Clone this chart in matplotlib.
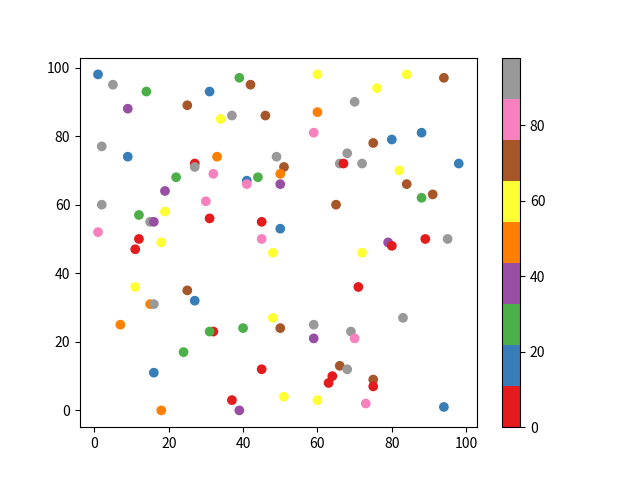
import numpy as np
import matplotlib
matplotlib.use("Agg")
import matplotlib.pyplot as plt

plt.rcParams['font.family'] = ['Noto Sans CJK SC', 'DejaVu Sans']

# colour value per point (Set1 bins over 0..98)
RED, BLUE, GREEN, PURPLE, ORANGE, YELLOW, BROWN, PINK, GREY = 5, 16, 27, 38, 49, 60, 70, 81, 92

x = [1, 5, 14, 9, 25, 31, 39, 42, 34, 37, 46, 60, 84, 94, 76, 70, 60, 59, 88, 80,
     75, 2, 9, 27, 27, 33, 49, 51, 50, 50, 32, 22, 41, 41, 44, 68, 66, 67, 72, 98,
     82, 84, 91, 88, 65, 19, 2, 12, 19, 30, 15, 16, 31, 45, 1, 12, 11, 18, 45, 48,
     50, 72, 79, 80, 89, 95, 71, 11, 15, 16, 25, 27, 7, 32, 31, 40, 24, 48, 50, 59,
     59, 69, 70, 83, 16, 45, 37, 39, 18, 51, 60, 66, 68, 64, 63, 75, 75, 73, 94]
y = [98, 95, 93, 88, 89, 93, 97, 95, 85, 86, 86, 98, 98, 97, 94, 90, 87, 81, 81, 79,
     78, 77, 74, 72, 71, 74, 74, 71, 69, 66, 69, 68, 67, 66, 68, 75, 72, 72, 72, 72,
     70, 66, 63, 62, 60, 64, 60, 57, 58, 61, 55, 55, 56, 55, 52, 50, 47, 49, 50, 46,
     53, 46, 49, 48, 50, 50, 36, 36, 31, 31, 35, 32, 25, 23, 23, 24, 17, 27, 24, 25,
     21, 23, 21, 27, 11, 12, 3, 0, 0, 4, 3, 13, 12, 10, 8, 9, 7, 2, 1]
colors = [BLUE, GREY, GREEN, PURPLE, BROWN, BLUE, GREEN, BROWN, YELLOW, GREY,
          BROWN, YELLOW, YELLOW, BROWN, YELLOW, GREY, ORANGE, PINK, BLUE, BLUE,
          BROWN, GREY, BLUE, RED, GREY, ORANGE, GREY, BROWN, ORANGE, PURPLE,
          PINK, GREEN, BLUE, PINK, GREEN, GREY, GREY, RED, GREY, BLUE,
          YELLOW, BROWN, BROWN, GREEN, BROWN, PURPLE, GREY, GREEN, YELLOW, PINK,
          GREY, PURPLE, RED, RED, PINK, RED, RED, YELLOW, PINK, YELLOW,
          BLUE, YELLOW, PURPLE, RED, RED, GREY, RED, YELLOW, ORANGE, GREY,
          BROWN, BLUE, ORANGE, RED, GREEN, GREEN, GREEN, YELLOW, BROWN, GREY,
          PURPLE, GREY, PINK, GREY, BLUE, RED, RED, PURPLE, ORANGE, YELLOW,
          YELLOW, BROWN, GREY, RED, RED, BROWN, RED, PINK, BLUE]

plt.figure(figsize=(6.4, 4.8), dpi=100)
plt.scatter(x, y, c=colors, cmap='Set1', vmin=0, vmax=98)
plt.colorbar()
plt.savefig("out.png")
